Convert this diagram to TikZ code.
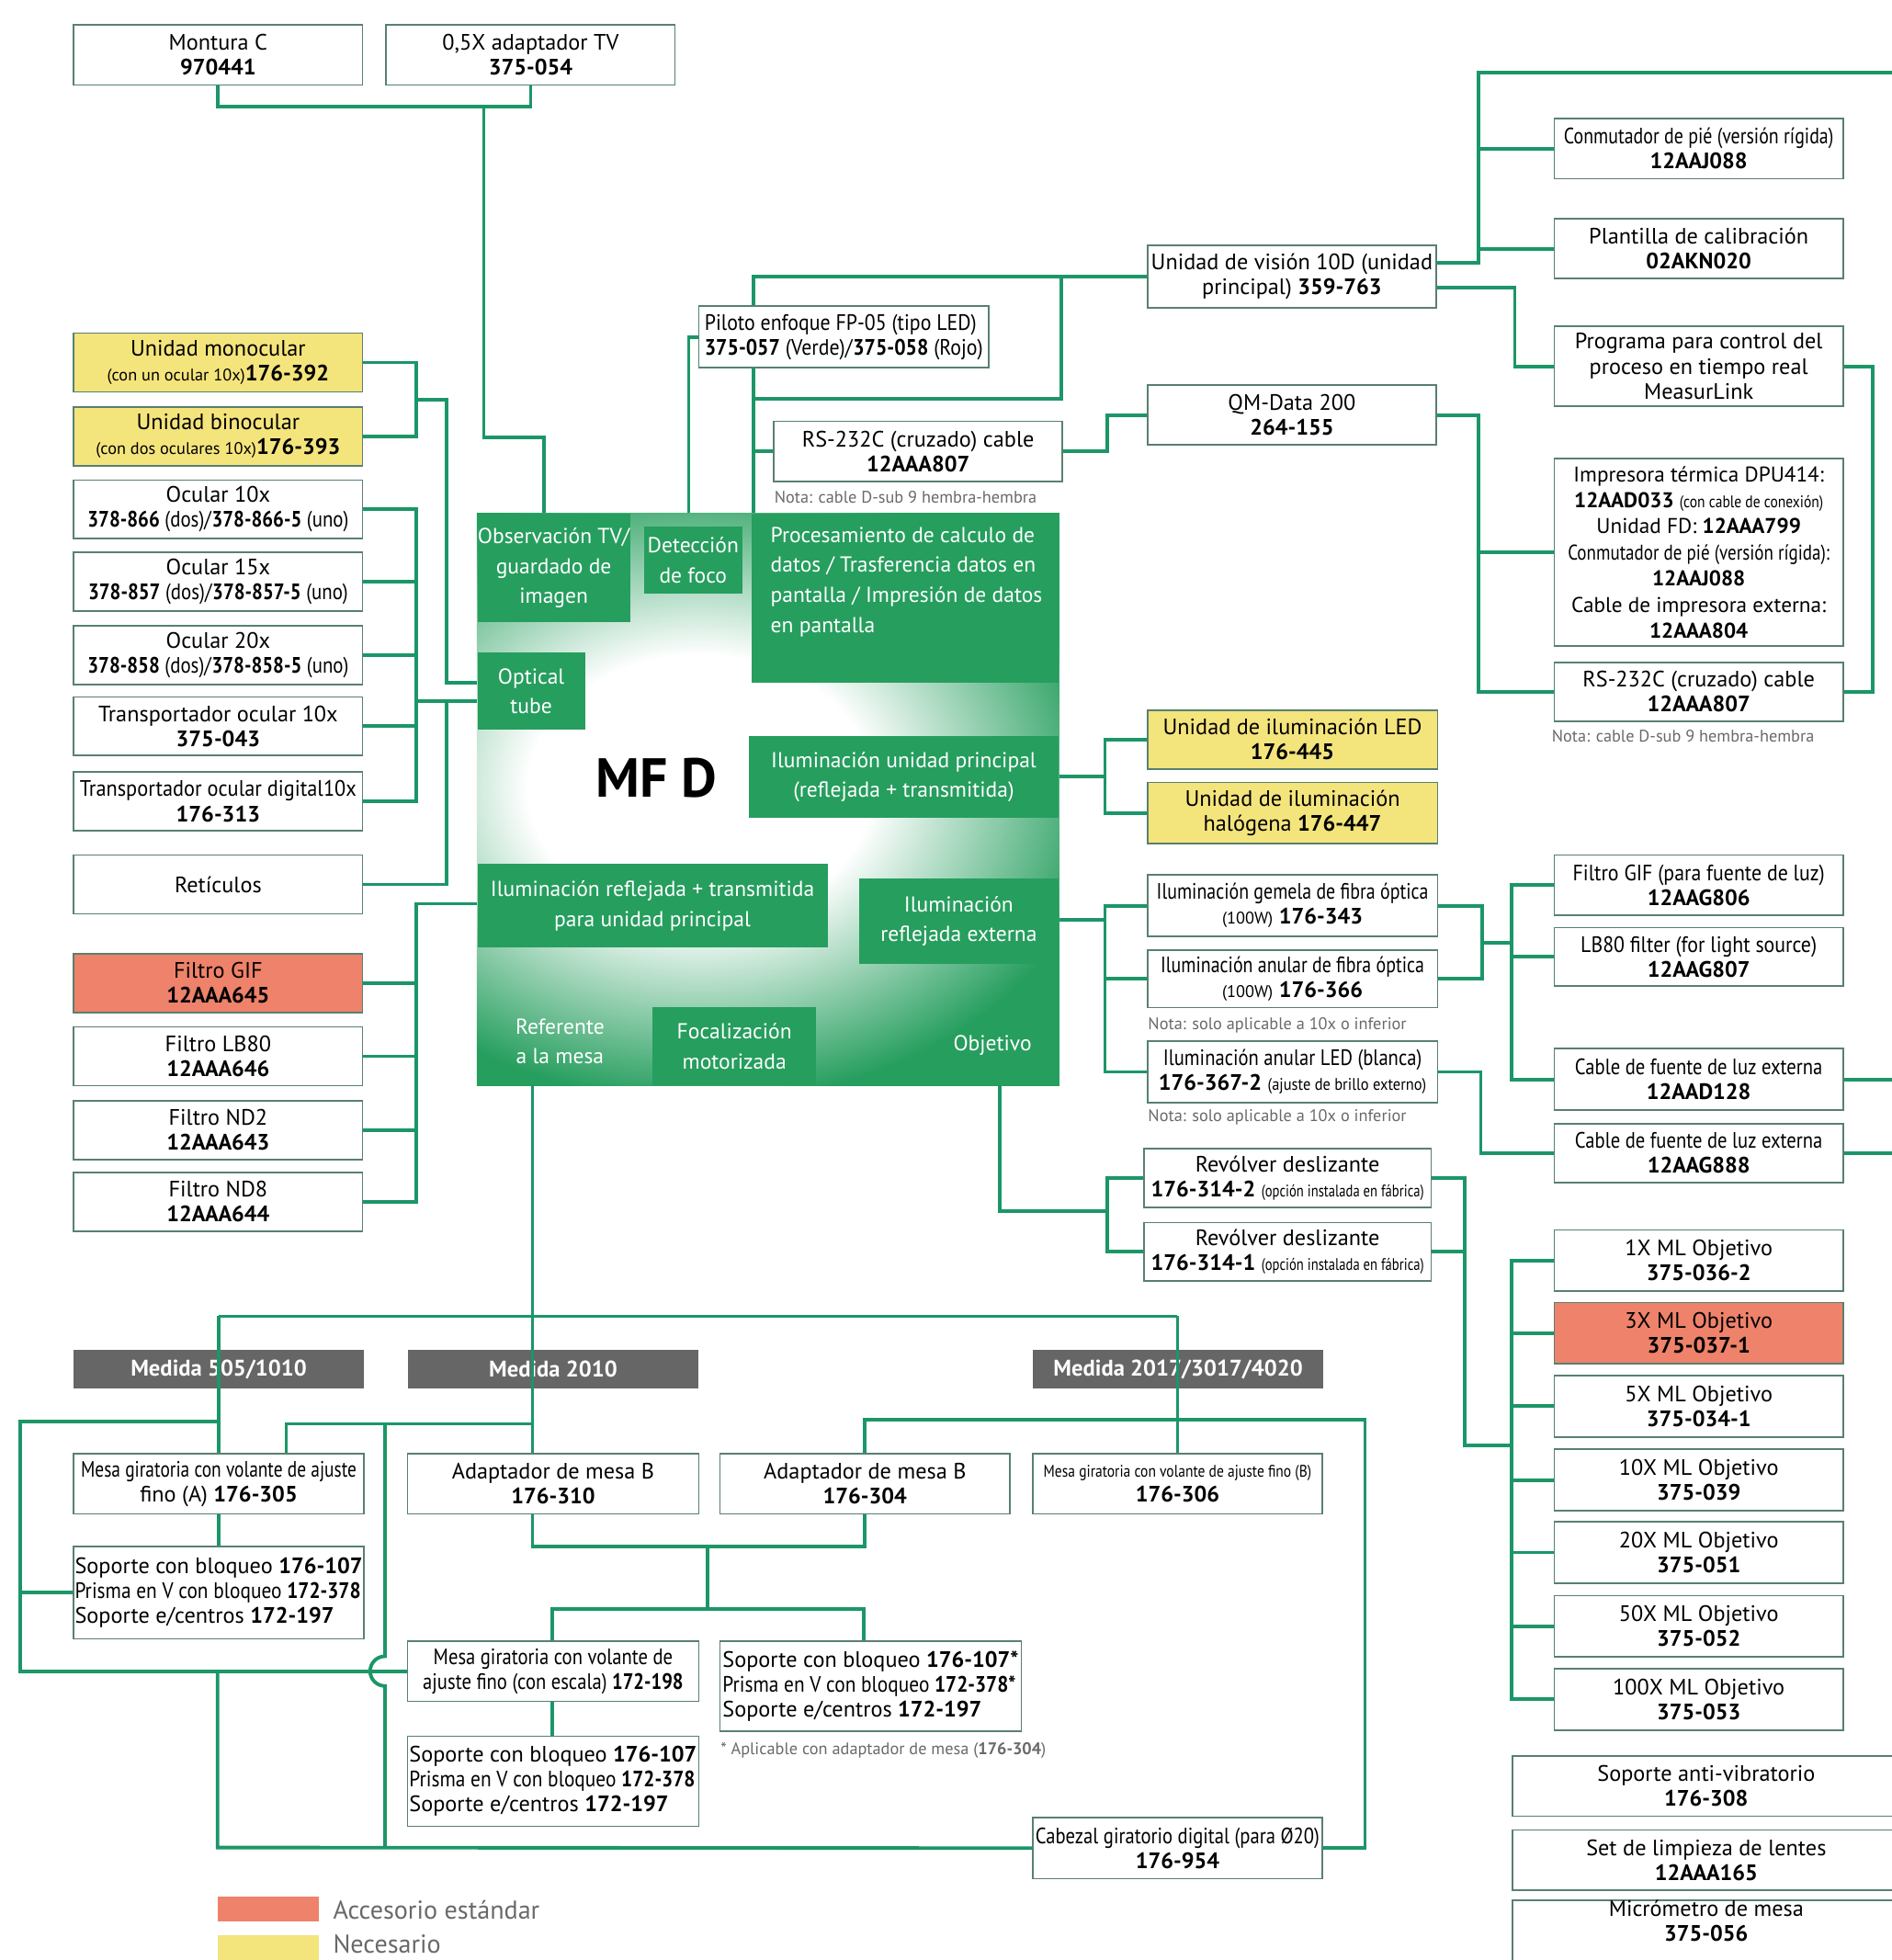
\documentclass[tikz,border=0pt]{standalone}
\usepackage{fontspec}
\setmainfont{PT Sans}
\usepackage{graphicx}
\usetikzlibrary{calc,positioning}
\definecolor{cLine}{RGB}{28,150,104}
\definecolor{cBox}{RGB}{88,128,112}
\definecolor{cMF}{RGB}{38,158,94}
\definecolor{cYel}{RGB}{244,228,124}
\definecolor{cRed}{RGB}{238,130,106}
\definecolor{cHead}{RGB}{102,102,102}
\definecolor{cNote}{RGB}{105,105,105}
\pgfdeclareradialshading{mfglow}{\pgfpoint{0bp}{0bp}}{color(0bp)=(white); color(8bp)=(white); color(19bp)=(cMF); color(25bp)=(cMF); color(50bp)=(cMF)}
\newcommand{\px}{0.0136cm}
\newcommand{\fBox}{\fontsize{6.9}{7.7}\selectfont}
\newcommand{\fSm}{\fontsize{5.2}{6}\selectfont}
\newcommand{\fPr}{\fontsize{6.6}{8.1}\selectfont}
\newcommand{\fMF}{\fontsize{6.7}{9.3}\selectfont}
\newcommand{\fNote}{\fontsize{5.2}{6}\selectfont}
\newcommand{\fHead}{\fontsize{7}{8}\selectfont}
\newcommand{\fLeg}{\fontsize{8}{9}\selectfont}
\newcommand{\cnd}[2][0.85]{\scalebox{#1}[1]{#2}}

\begin{document}
\begin{tikzpicture}[x=0.0136cm,y=-0.0136cm,
  ln/.style={draw=cLine,line width=1.1pt},
  wh/.style 2 args={minimum width=#1*\px,minimum height=#2*\px},
  box/.style={draw=cBox,line width=0.5pt,fill=white,inner sep=0pt,align=center,font=\fBox,wh={231}{48}},
  needbox/.style={box,fill=cYel},
  stdbox/.style={box,fill=cRed},
  head/.style={fill=cHead,text=white,inner sep=0pt,font=\fHead\bfseries,wh={232}{31}},
  mfsub/.style={fill=cMF,text=white,inner sep=0pt,align=center,font=\fMF},
  note/.style={anchor=west,inner sep=0pt,text=cNote,font=\fNote}]
\useasboundingbox (0,0) rectangle (1513,1568);

% main unit
\node[fill=cMF,inner sep=0pt,wh={465}{457}] (mfd) at (614.5,639.5) {};
\begin{scope}
\clip (mfd.south west) rectangle (mfd.north east);
\shade[shading=mfglow] (560,630) ellipse [x radius=5.85cm,y radius=4.5cm];
\end{scope}
\node[mfsub,wh={122}{87}] (obs) at (443,454.5) {Observación TV/\\guardado de\\imagen};
\node[mfsub,wh={79}{54}] (det) at (554.5,448) {Detección\\de foco};
\node[mfsub,wh={246}{135}] (proc) at (724,478.5) {};
\node[mfsub,fill=none,anchor=north west,align=left] (proct) at (616,421) {Procesamiento de calculo de\\datos / Trasferencia datos en\\pantalla / Impresión de datos\\en pantalla};
\node[mfsub,wh={86}{62}] (opt) at (425,553) {Optical\\tube};
\node[font=\fontsize{17}{18}\selectfont\bfseries,inner sep=0pt] (mfdt) at (525,622) {MF D};
\node[mfsub,wh={248}{65}] (ilup) at (723,621.5) {Iluminación unidad principal\\(reflejada + transmitida)};
\node[mfsub,wh={280}{67}] (ilrt) at (522,724.5) {Iluminación reflejada + transmitida\\para unidad principal};
\node[mfsub,wh={160}{68}] (ilre) at (767,737) {Iluminación\\reflejada externa};
\node[mfsub,wh={131}{62}] (foc) at (587.5,837) {Focalización\\motorizada};
\node[mfsub,fill=none] (refm) at (448,833) {Referente\\a la mesa};
\node[mfsub,fill=none] (objt) at (794,836) {Objetivo};

% top
\node[box] (mont) at (174.5,44) {Montura C\\\textbf{970441}};
\node[box] (tvad) at (424.5,44) {0,5X adaptador TV\\\textbf{375-054}};

% left column
\node[needbox,wh={231}{47}] (mono) at (174.5,290) {Unidad monocular\\{\fSm(con un ocular 10x)}\textbf{176-392}};
\node[needbox,wh={231}{47}] (bino) at (174.5,349) {Unidad binocular\\{\fSm(con dos oculares 10x)}\textbf{176-393}};
\node[box,wh={231}{47}] (oc10) at (174.5,407.5) {Ocular 10x\\\cnd[0.86]{\textbf{378-866} (dos)/\textbf{378-866-5} (uno)}};
\node[box,wh={231}{47}] (oc15) at (174.5,465.5) {Ocular 15x\\\cnd[0.86]{\textbf{378-857} (dos)/\textbf{378-857-5} (uno)}};
\node[box,wh={231}{47}] (oc20) at (174.5,524) {Ocular 20x\\\cnd[0.86]{\textbf{378-858} (dos)/\textbf{378-858-5} (uno)}};
\node[box,wh={231}{47}] (trans) at (174.5,581) {Transportador ocular 10x\\\textbf{375-043}};
\node[box,wh={231}{47}] (transdig) at (174.5,641) {\cnd[0.92]{Transportador ocular digital10x}\\\textbf{176-313}};
\node[box,wh={231}{47}] (ret) at (174.5,707.5) {Retículos};
\node[stdbox,wh={231}{47}] (gif) at (174.5,786.5) {Filtro GIF\\\textbf{12AAA645}};
\node[box,wh={231}{47}] (lb80) at (174.5,845) {Filtro LB80\\\textbf{12AAA646}};
\node[box,wh={231}{47}] (nd2) at (174.5,904) {Filtro ND2\\\textbf{12AAA643}};
\node[box,wh={231}{47}] (nd8) at (174.5,961.5) {Filtro ND8\\\textbf{12AAA644}};

% centre column
\node[box,wh={232}{49},align=left] (piloto) at (675,269.5) {\cnd[0.9]{Piloto enfoque FP-05 (tipo LED)}\\\cnd[0.9]{\textbf{375-057} (Verde)/\textbf{375-058} (Rojo)}};
\node[box] (rs1) at (734.5,361) {RS-232C (cruzado) cable\\\textbf{12AAA807}};
\node[note] (n1) at (619,398) {Nota: cable D-sub 9 hembra-hembra};
\node[box,wh={231}{50}] (vis) at (1033.5,221) {Unidad de visión 10D (unidad\\principal) \textbf{359-763}};
\node[box] (qm) at (1033.5,332) {QM-Data 200\\\textbf{264-155}};
\node[needbox,wh={232}{47}] (led) at (1034,591.5) {Unidad de iluminación LED\\\textbf{176-445}};
\node[needbox,wh={232}{49}] (halo) at (1034,650.5) {Unidad de iluminación\\halógena \textbf{176-447}};
\node[box,wh={232}{49}] (fib1) at (1034,724.5) {\cnd[0.82]{Iluminación gemela de fibra óptica}\\{\fSm(100W)} \textbf{176-343}};
\node[box,wh={232}{46}] (fib2) at (1034,783) {\cnd[0.82]{Iluminación anular de fibra óptica}\\{\fSm(100W)} \textbf{176-366}};
\node[note] (n3) at (918,820) {Nota: solo aplicable a 10x o inferior};
\node[box,wh={232}{49}] (ledring) at (1034,857.5) {\cnd[0.85]{Iluminación anular LED (blanca)}\\\textbf{176-367-2} {\fSm\cnd[0.9]{(ajuste de brillo externo)}}};
\node[note] (n4) at (918,894) {Nota: solo aplicable a 10x o inferior};
\node[box,wh={230}{47}] (rev2) at (1030,942.5) {Revólver deslizante\\\textbf{176-314-2} {\fSm\cnd[0.8]{(opción instalada en fábrica)}}};
\node[box,wh={230}{47}] (rev1) at (1030,1001.5) {Revólver deslizante\\\textbf{176-314-1} {\fSm\cnd[0.8]{(opción instalada en fábrica)}}};

% right column
\node[box] (foot) at (1359,119) {\cnd[0.82]{Conmutador de pié (versión rígida)}\\\textbf{12AAJ088}};
\node[box] (calib) at (1359,199) {Plantilla de calibración\\\textbf{02AKN020}};
\node[box,wh={231}{64}] (meas) at (1359,293) {Programa para control del\\proceso en tiempo real\\MeasurLink};
\node[box,wh={231}{150},font=\fPr] (printer) at (1359,442) {Impresora térmica DPU414:\\\textbf{12AAD033} {\fSm\cnd[0.85]{(con cable de conexión)}}\\Unidad FD: \textbf{12AAA799}\\\cnd[0.82]{Conmutador de pié (versión rígida):}\\\textbf{12AAJ088}\\Cable de impresora externa:\\\textbf{12AAA804}};
\node[box,wh={231}{47}] (rs2) at (1359,553.5) {RS-232C (cruzado) cable\\\textbf{12AAA807}};
\node[note] (n2) at (1241,589) {Nota: cable D-sub 9 hembra-hembra};
\node[box] (gif2) at (1359,708) {\cnd[0.9]{Filtro GIF (para fuente de luz)}\\\textbf{12AAG806}};
\node[box,wh={231}{47}] (lb80b) at (1359,765.5) {\cnd[0.9]{LB80 filter (for light source)}\\\textbf{12AAG807}};
\node[box,wh={231}{49}] (cable1) at (1359,863.5) {\cnd[0.85]{Cable de fuente de luz externa}\\\textbf{12AAD128}};
\node[box,wh={231}{47}] (cable2) at (1359,922.5) {\cnd[0.85]{Cable de fuente de luz externa}\\\textbf{12AAG888}};
\node[box,wh={231}{49}] (obj1) at (1359,1008.5) {1X ML Objetivo\\\textbf{375-036-2}};
\node[stdbox,wh={231}{49}] (obj3) at (1359,1066.5) {3X ML Objetivo\\\textbf{375-037-1}};
\node[box,wh={231}{49}] (obj5) at (1359,1125) {5X ML Objetivo\\\textbf{375-034-1}};
\node[box,wh={231}{49}] (obj10) at (1359,1184) {10X ML Objetivo\\\textbf{375-039}};
\node[box,wh={231}{49}] (obj20) at (1359,1242) {20X ML Objetivo\\\textbf{375-051}};
\node[box,wh={231}{49}] (obj50) at (1359,1301) {50X ML Objetivo\\\textbf{375-052}};
\node[box,wh={231}{49}] (obj100) at (1359,1359.5) {100X ML Objetivo\\\textbf{375-053}};
\node[box,wh={310}{48}] (anti) at (1365,1429) {Soporte anti-vibratorio\\\textbf{176-308}};
\node[box,wh={310}{48}] (clean) at (1365,1488) {Set de limpieza de lentes\\\textbf{12AAA165}};
\node[box,wh={310}{56},text depth=0pt] (micro) at (1365,1552) {Micrómetro de mesa\\\textbf{375-056}\\[1.2ex]};

% stages
\node[head] (h1) at (175,1095.5) {Medida 505/1010};
\node[head] (h2) at (442.5,1095.5) {Medida 2010};
\node[head] (h3) at (942.5,1095.5) {Medida 2017/3017/4020};
\node[box,wh={232}{48}] (mesaA) at (175,1187) {\cnd[0.8]{Mesa giratoria con volante de ajuste}\\fino (A) \textbf{176-305}};
\node[box,wh={232}{74},align=left] (sopA) at (175,1274) {Soporte con bloqueo \textbf{176-107}\\\cnd[0.88]{Prisma en V con bloqueo \textbf{172-378}}\\Soporte e/centros \textbf{172-197}};
\node[box,wh={233}{48}] (ad310) at (442.5,1187) {Adaptador de mesa B\\\textbf{176-310}};
\node[box,wh={232}{48}] (ad304) at (692,1187) {Adaptador de mesa B\\\textbf{176-304}};
\node[box,wh={232}{48}] (mesaB) at (942,1187) {{\fSm\cnd[0.85]{Mesa giratoria con volante de ajuste fino (B)}}\\\textbf{176-306}};
\node[box,wh={233}{48}] (mesa2) at (442.5,1337) {\cnd[0.85]{Mesa giratoria con volante de}\\\cnd[0.85]{ajuste fino (con escala) \textbf{172-198}}};
\node[box,wh={233}{72},align=left] (sop3) at (442.5,1425) {Soporte con bloqueo \textbf{176-107}\\\cnd[0.88]{Prisma en V con bloqueo \textbf{172-378}}\\Soporte e/centros \textbf{172-197}};
\node[box,wh={241}{72},align=left] (sop2) at (696.5,1349) {Soporte con bloqueo \textbf{176-107*}\\\cnd[0.88]{Prisma en V con bloqueo \textbf{172-378*}}\\Soporte e/centros \textbf{172-197}};
\node[note] (n5) at (576,1400) {* Aplicable con adaptador de mesa (\textbf{176-304})};
\node[box,wh={232}{49}] (cabezal) at (942,1478.5) {\cnd[0.85]{Cabezal giratorio digital (para Ø20)}\\\textbf{176-954}};

% legend
\node[fill=cRed,inner sep=0pt,wh={81}{20}] (swstd) at (214.5,1527) {};
\node[anchor=west,inner sep=0pt,font=\fLeg,text=cNote] (lgstd) at (266,1528) {Accesorio estándar};
\node[fill=cYel,inner sep=0pt,wh={81}{20}] (swneed) at (214.5,1558) {};
\node[anchor=west,inner sep=0pt,font=\fLeg,text=cNote] (lgneed) at (266,1555) {Necesario};

% camera
\coordinate (tvj) at (387,85);
\coordinate (tvk) at (435,350);
\draw[ln] (mont.south) |- (tvj) -| (tvad.south);
\draw[ln] (tvj) |- (tvk) -- (tvk |- mfd.north);

% focus pilot and data
\coordinate (fx) at (551,0);
\draw[ln] (piloto.west) -| (mfd.north -| fx);
\coordinate (dx) at (603,0);
\coordinate (dr) at (849,319);
\draw[ln] (mfd.north -| dx) -- (piloto.south -| dx);
\draw[ln] (piloto.north -| dx) |- (vis.west);
\draw[ln] (vis.west -| dr) -- (dr) -- (dr -| dx);
\draw[ln] (rs1.west -| dx) -- (rs1.west);
\draw[ln] (rs1.east) -- ++(35,0) |- (qm.west);

% vision unit
\coordinate (vx) at (1183,58);
\coordinate (vend) at (1520,58);
\draw[ln] ($(vis.east)+(0,-11)$) -| (vx) -- (vend);
\draw[ln] (foot.west -| vx) -- (foot.west);
\draw[ln] (calib.west -| vx) -- (calib.west);
\draw[ln] ($(vis.east)+(0,9)$) -| ($(meas.west)+(-31,0)$) -- (meas.west);
\draw[ln] (meas.east) -- ++(23,0) |- (rs2.east);
\coordinate (qx) at (1183,0);
\draw[ln] (qm.east) -| (rs2.west -| qx) -- (rs2.west);
\draw[ln] (printer.west -| qx) -- (printer.west);

% eyepieces
\coordinate (lx) at (333,0);
\coordinate (mbj) at (333,320);
\coordinate (mbk) at (357,546);
\draw[ln] (mono.east) -| (bino.east -| lx) -- (bino.east);
\draw[ln] (mbj) -| (mbk) -- (mfd.west |- mbk);
\draw[ln] (oc10.east) -| (transdig.east -| lx) -- (transdig.east);
\draw[ln] (oc15.east) -- (oc15.east -| lx);
\draw[ln] (oc20.east) -- (oc20.east -| lx);
\draw[ln] (trans.east) -- (trans.east -| lx);
\coordinate (ocj) at (333,561);
\draw[ln] (ocj) -- (mfd.west |- ocj);
\draw[ln] (ret.east) -| (mbk |- ocj);

% filters
\coordinate (fj) at (333,723);
\draw[ln] (mfd.west |- fj) -- (fj) |- (nd8.east);
\draw[ln] (gif.east) -- (gif.east -| lx);
\draw[ln] (lb80.east) -- (lb80.east -| lx);
\draw[ln] (nd2.east) -- (nd2.east -| lx);

% illumination
\coordinate (ix) at (884,621);
\draw[ln] (mfd.east |- ix) -- (ix);
\draw[ln] (led.west) -| (halo.west -| ix) -- (halo.west);
\coordinate (iy) at (884,736);
\draw[ln] (mfd.east |- iy) -- (iy);
\draw[ln] (fib1.west) -| (ledring.west -| iy) -- (ledring.west);
\draw[ln] (fib2.west) -- (fib2.west -| iy);
\coordinate (fbx) at (1186,754);
\coordinate (fby) at (1209,754);
\draw[ln] (fib1.east) -| (fib2.east -| fbx) -- (fib2.east);
\draw[ln] (fbx) -- (fby);
\draw[ln] (gif2.west) -| (cable1.west -| fby) -- (cable1.west);
\draw[ln] (lb80b.west) -- (lb80b.west -| fby);
\draw[ln] (ledring.east) -- ++(34,0) |- (cable2.west);
\coordinate (pageR) at (1520,0);
\draw[ln] (cable1.east) -- (cable1.east -| pageR);
\draw[ln] (cable2.east) -- (cable2.east -| pageR);

% nosepiece and objectives
\coordinate (ox) at (800,969);
\coordinate (rx) at (886,969);
\draw[ln] (mfd.south -| ox) -- (ox) -- (rx);
\draw[ln] (rev2.west) -| (rev1.west -| rx) -- (rev1.west);
\coordinate (rvy) at (1172,1156);
\coordinate (obx) at (1209,1156);
\draw[ln] (rev2.east) -| (rvy) -- (obx);
\draw[ln] (rev1.east) -- (rev1.east -| rvy);
\draw[ln] (obj1.west) -| (obj100.west -| obx) -- (obj100.west);
\draw[ln] (obj3.west) -- (obj3.west -| obx);
\draw[ln] (obj5.west) -- (obj5.west -| obx);
\draw[ln] (obj10.west) -- (obj10.west -| obx);
\draw[ln] (obj20.west) -- (obj20.west -| obx);
\draw[ln] (obj50.west) -- (obj50.west -| obx);

% stages
\coordinate (sx) at (426,1053);
\draw[ln] (mfd.south -| sx) -- (ad310.north -| sx);
\draw[ln] (mesaA.north |- sx) -- (mesaB.north |- sx);
\draw[ln] (mesaA.north |- sx) -- (mesaA.north);
\draw[ln] (mesaB.north |- sx) -- (mesaB.north);
\draw[ln] (mesaA.south) -- (sopA.north);
\coordinate (sl) at (16,1137);
\draw[ln] (mesaA.north |- sl) -- (sl) |- (mesa2.west);
\draw[ln] (sopA.west -| sl) -- (sopA.west);
\coordinate (sm) at (229,1139);
\draw[ln] (sx |- sm) -- (sm) -- (mesaA.north -| sm);
\coordinate (sh) at (308,1139);
\coordinate (sb) at (174,1478);
\draw[ln] (sh) -- (308,1325) arc[start angle=90,end angle=270,radius=4.6pt] -- (sh |- sb);
\draw[ln] (mesa2.west -| sb) -- (sb) -- (cabezal.west);
\coordinate (sr) at (1092,1136);
\draw[ln] (cabezal.east) -| (sr) -| (ad304.north);
\coordinate (sa) at (426,1237);
\coordinate (sc) at (566,1287);
\draw[ln] (ad310.south -| sa) -- (sa) -| (ad304.south);
\draw[ln] (sa -| sc) -- (sc);
\coordinate (sd) at (442,1287);
\coordinate (se) at (691,1287);
\draw[ln] (mesa2.north -| sd) -- (sd) -- (se) -- (sop2.north -| se);
\draw[ln] (mesa2.south -| sd) -- (sop3.north -| sd);
\end{tikzpicture}
\end{document}
